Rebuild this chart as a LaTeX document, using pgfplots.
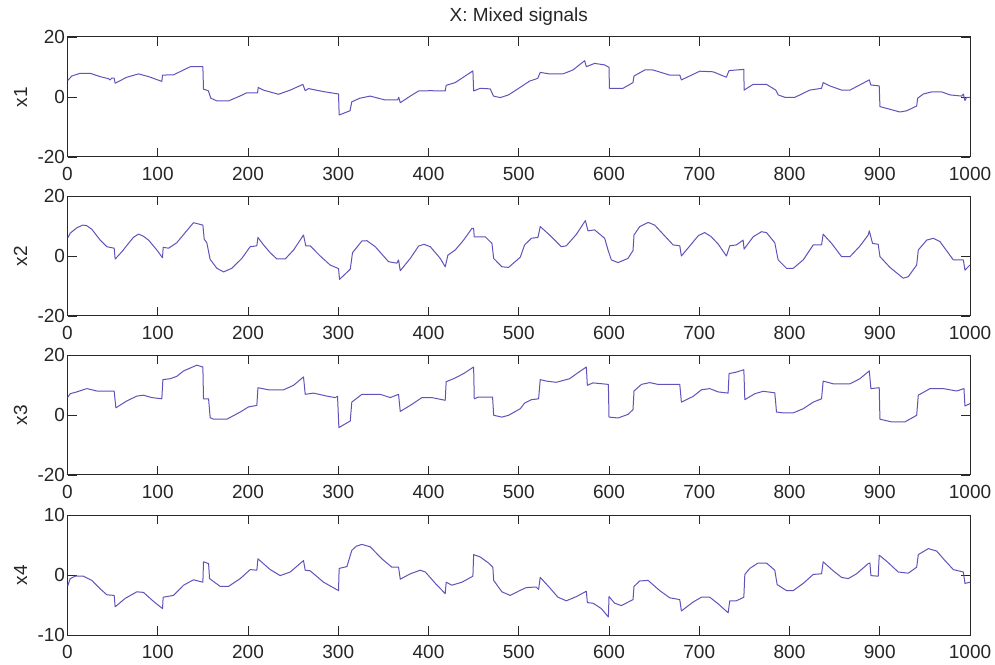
\documentclass[border=0pt]{standalone}
\usepackage{fontspec}
\setmainfont{Liberation Sans}
\usepackage{pgfplots}
\pgfplotsset{compat=1.18}
\definecolor{sig}{RGB}{100,80,185}
\definecolor{frame}{RGB}{40,40,40}
\pgfplotsset{
  panel/.style={
    scale only axis, width=902.5pt, height=120pt,
    anchor=south west,
    xmin=0, xmax=1000,
    xtick={0,100,200,300,400,500,600,700,800,900,1000},
    xticklabels={0,100,200,300,400,500,600,700,800,900,1000},
    tick align=inside, major tick length=9pt,
    axis line style={line width=1pt, frame},
    every tick/.style={frame, line width=0.8pt},
    tick label style={font=\fontsize{19}{22}\selectfont, text=black!85},
    yticklabel style={xshift=1pt},
    xticklabel style={yshift=-7pt},
    label style={font=\fontsize{19}{22}\selectfont, text=black!85},
    ylabel style={at={(axis description cs:-0.052,0.5)}, anchor=center},
    title style={at={(0.5,1)}, anchor=base, yshift=9pt, font=\fontsize{19}{22}\selectfont, text=black!85},
  },
  sigline/.style={sig, line width=1pt, no marks, line join=round},
}
\begin{document}
\begin{tikzpicture}[x=1pt,y=1pt]
\useasboundingbox (0,0) rectangle (995,664);

\begin{axis}[panel, at={(67.5pt,507pt)}, ymin=-20, ymax=20, ytick={-20,0,20}, yticklabels={-20,0,20}, ylabel={x1}, title={X: Mixed signals}]
\addplot[sigline] coordinates {(0,5.4)(4.8,7)(14,7.9)(25,7.9)(36,6.8)(45.4,6.1)(47.3,5.7)(49.1,6.3)(51.7,6.3)(52.8,4.6)(65.8,6.6)(78.7,7.7)(89.8,6.8)(104.5,5.2)(105.3,7.3)(117.5,7.4)(128.6,9)(136,10.1)(150,10.1)(150.7,2.6)(156,2.1)(158.8,-0.4)(165.5,-1.3)(178.4,-1.3)(191,0.3)(198.7,1.4)(210.6,1.4)(211.3,3.2)(217,2.3)(233.8,0.9)(246.8,2.3)(260.8,4.2)(263.4,2.1)(267,2.8)(283.7,1.8)(300.3,1.0)(301,-6)(313,-4.6)(315,-1.6)(324,-0.4)(335.4,0.3)(352,-1)(365.7,-1)(367,-0.1)(368.7,-1.9)(379.8,0.3)(389,2)(402,2.1)(418.5,2)(419.6,3.9)(429.6,4.8)(449.2,8.7)(450,2)(457.3,2.9)(468.4,2.7)(472,0.3)(479.5,-0.2)(488.7,0.7)(501,3.1)(512,5.3)(521,6.2)(523.8,8.2)(534,7.7)(549,7.7)(560,9)(573,12.1)(574.9,10.1)(584,11.2)(595,10.7)(600,9.9)(600.5,2.9)(615.5,2.9)(626.6,4.8)(627.7,7)(639.6,9)(648.8,9)(667.3,7.3)(678.4,7.3)(680.2,5.7)(700.6,8.6)(715.3,8.4)(730,6.6)(733,8.8)(749.4,9.2)(749.7,2.3)(759.7,4.2)(774.5,4.2)(784.8,2.3)(787.4,0.7)(794.8,-0.1)(806,-0.1)(822.5,2.3)(835.5,2.9)(837.3,4.8)(844.7,3.7)(857.7,2.3)(867,2.3)(888.4,5.7)(890.2,4)(899.4,3.7)(900.2,-3.2)(911.3,-4.1)(922.4,-5)(929.8,-4.6)(940.9,-3)(942,-0.4)(948.2,1)(957.5,1.7)(968.6,1.7)(977.8,0.7)(990.8,0.3)(992.6,1)(994.4,-1.2)(996.3,-0.1)(1000,-0.1)};
\end{axis}

\begin{axis}[panel, at={(67.5pt,348pt)}, ymin=-20, ymax=20, ytick={-20,0,20}, yticklabels={-20,0,20}, ylabel={x2}]
\addplot[sigline] coordinates {(0,5.9)(3,7.6)(10.3,9.4)(17,10.3)(21.4,10.1)(27,8.9)(36.2,5.3)(43.6,3.1)(51.7,2.6)(52.8,-1)(60.2,1.4)(67.6,4.2)(73,6.2)(78.7,7.3)(84,6.6)(89.8,5.3)(99,2)(105.3,-0.6)(106,2.9)(112,2.6)(121,4.4)(130.4,7.8)(139.6,11.1)(150,10.3)(151.5,5.6)(154.4,4.4)(158,-1.1)(165.5,-4.1)(173,-5.3)(182,-4.1)(193.2,-0.8)(202.4,3.1)(209.8,3.4)(211,6.2)(217.2,3.7)(224.6,1.1)(232,-1)(241.2,-1)(250.5,2)(261.5,7)(264,3.4)(268.9,3.4)(280,0)(291,-3)(300.3,-4.2)(301.4,-7.8)(313.3,-4.4)(315.8,1.1)(326.2,5)(331.7,5.1)(341,3.1)(355.7,-1.9)(365,-2.4)(366.8,-1.3)(368.7,-4.9)(379.8,-0.8)(389,3.3)(395,3.9)(402,3.1)(413,-0.8)(418.5,-3.6)(421.5,0.3)(429.6,2)(438.9,5.3)(448.1,9.2)(450,9.2)(450.7,6.4)(462.9,6.4)(470.3,4.2)(472.2,-0.8)(481.3,-3.6)(488.7,-3.8)(501.7,-0.4)(506.5,3.7)(513.9,5.9)(521.3,6.2)(523.8,9.8)(534.2,7)(547.1,3.1)(552.7,3.4)(563.8,7.2)(573.8,11.8)(576.7,8.4)(584.1,8.7)(595.2,5.9)(598.9,2)(602.6,-1.3)(610,-2.2)(621,-0.8)(626.6,1.8)(627.7,7)(634,9.8)(643.3,11.2)(650.6,10.3)(659.9,7.3)(671,3.7)(678.4,3.4)(680.2,0)(691.3,4)(699,6.8)(706,7.8)(713,6.5)(720.9,4)(730.1,0)(733.8,3.4)(741.2,3.7)(748.6,5.3)(749.7,2.3)(759.7,6.4)(769,8.1)(774.5,7.8)(783.7,4.4)(787.4,-1.3)(796.7,-4.1)(804.1,-4.1)(815.2,-1.3)(826.3,3.7)(835.5,3.7)(837.3,7.3)(846.6,4.2)(857.7,-0.2)(867,-0.2)(878,3.3)(887.2,7)(888.4,8.4)(892,4.2)(898.3,3.9)(900.2,-0.2)(911.3,-3.8)(926,-7.4)(931.6,-6.9)(940.9,-3)(942.7,2)(952,5.3)(959.4,5.9)(966.7,4.8)(981.5,-1.3)(992.6,-1.3)(994.4,-4.7)(1000,-3)};
\end{axis}

\begin{axis}[panel, at={(67.5pt,189pt)}, ymin=-20, ymax=20, ytick={-20,0,20}, yticklabels={-20,0,20}, ylabel={x3}]
\addplot[sigline] coordinates {(0,5.8)(3,7.1)(10.3,7.7)(21.4,8.8)(32.5,8)(51.7,8)(53.6,2.4)(65.8,4.7)(76.8,6.3)(84.2,6.6)(93.5,5.8)(104.5,5.4)(105.7,11.8)(113.8,12.1)(121.2,12.9)(128.6,14.7)(143.3,16.6)(150,16)(150.7,5.4)(156.3,5.4)(158.1,-0.9)(161.8,-1.4)(176.6,-1.4)(191.4,1)(200.6,2.7)(209.8,3.2)(211,9.1)(222.8,8.4)(239.4,8.4)(250.5,9.9)(261.5,12.7)(263.4,6.9)(272.6,7.3)(287.4,6.3)(296.6,5.8)(299.2,6.2)(300.7,-4.2)(313.3,-2)(315,4.3)(326.2,6.9)(346.5,6.9)(357.6,5.8)(366.8,6.9)(368.7,1.2)(379.8,3.2)(392.7,5.8)(403.8,5.8)(418.5,4.9)(419.6,11.1)(427.8,12.1)(438.9,13.8)(450,16)(450.7,5.4)(455.5,6)(471,6)(472.2,-0.1)(481.3,-0.7)(488.7,-0.1)(501.7,2.1)(506.5,4)(513.9,5.1)(522,5.4)(523.8,11.8)(530.5,11.3)(541.6,10.9)(556.4,12.1)(565.6,14.1)(574.9,16)(576,9.9)(582.3,10.7)(592.6,10.4)(599.3,10.2)(600,-0.7)(610,-1)(621,0.2)(626.6,1.8)(627.7,8)(635.9,10.2)(645.1,10.8)(654.3,10.2)(678.4,10.2)(680.2,4.3)(693.2,6.2)(702.4,8.4)(711.6,8.8)(720.9,7.7)(732,7.3)(733,13.8)(741.2,14.3)(749.4,15.1)(750.5,5.1)(761.6,7.1)(770.8,7.9)(783.7,7.4)(785.6,1)(793,0.7)(804.1,0.7)(815.2,2.1)(826.3,4.3)(835.5,5.4)(837.3,11.3)(848.4,10.4)(867,10.4)(878,12.1)(888.4,14.7)(890.2,8.8)(899.4,9.1)(900.2,-1.4)(913.1,-2.3)(927.9,-2.3)(940.9,-0.1)(942.7,6.6)(955.7,8.8)(970.4,8.8)(985.2,8)(993.3,8.8)(994.4,3)(1000,3.8)};
\end{axis}

\begin{axis}[panel, at={(67.5pt,29pt)}, ymin=-10, ymax=10, ytick={-10,0,10}, yticklabels={-10,0,10}, ylabel={x4}]
\addplot[sigline] coordinates {(0,-1.9)(3,-0.6)(8.5,-0.2)(17.7,-0.2)(27,-0.9)(36.2,-2.3)(43.6,-3.3)(51.7,-3.4)(52.8,-5.3)(63.9,-3.9)(76.8,-2.8)(84.2,-2.9)(95.3,-4.4)(105.3,-5.6)(106,-3.7)(117.5,-3.4)(128.6,-1.7)(139.6,-0.8)(150,-1.2)(150.7,2.2)(156.3,1.9)(157.4,-0.6)(169.2,-1.9)(178.4,-1.9)(191.4,-0.6)(202.4,0.9)(209.8,0.8)(211,2.7)(224.6,0.9)(235.7,-0.1)(246.8,0.5)(261.5,2.4)(263.4,0.8)(268.9,0.7)(283.7,-1.2)(300.3,-2.6)(301,1.1)(309.6,1.4)(315,4.1)(320,4.8)(326.2,5.1)(335.4,4.7)(348.3,2.7)(359.4,1.3)(366.8,1.3)(368.7,-0.7)(379.8,0.2)(390.9,0.8)(396.5,0.5)(407.6,-1.4)(418.5,-3.1)(419.6,-1.2)(425.9,-1.7)(437,-1.2)(449.2,-0.2)(450,3.4)(457.3,3)(466.5,2)(471.3,1.3)(472.2,-0.9)(481.3,-2.8)(490.5,-3.4)(501,-2.6)(508.3,-2.1)(519.4,-2)(522,-2.4)(523.8,-0.4)(534.2,-2.1)(543.4,-3.7)(552.7,-4.3)(563.8,-3.6)(574.9,-2.7)(576,-4.6)(582.3,-4.7)(591.5,-5.6)(599.3,-7)(600,-3.6)(606.3,-4.7)(613.7,-5.1)(626.6,-4.1)(627.7,-1.9)(634,-1)(643.3,-0.9)(656.2,-2.6)(667.3,-3.8)(678.4,-4.1)(680.2,-6)(693.2,-4.5)(702.4,-3.7)(711.6,-3.7)(720.9,-4.8)(732,-6.3)(733.8,-4.3)(741.2,-4.3)(749.4,-3.7)(750.5,0.1)(756,1.1)(765.2,2)(774.5,2)(783.7,0.8)(786.3,-1.6)(796.7,-2.6)(804.1,-2.6)(815.2,-1.4)(826.3,0.1)(835.5,0.2)(837.3,2.2)(848.4,0.7)(857.7,-0.4)(865.1,-0.6)(874.3,0.2)(887.2,1.9)(889.1,2)(890.2,-0.1)(898.3,-0.2)(899.4,3.3)(907.6,2.3)(920.5,0.5)(931.6,0.3)(940.9,1.3)(942.7,3.4)(953.8,4.4)(963,4)(972.3,2.4)(981.5,0.9)(992.6,0.5)(994.4,-1.4)(1000,-1.2)};
\end{axis}
\end{tikzpicture}
\end{document}
